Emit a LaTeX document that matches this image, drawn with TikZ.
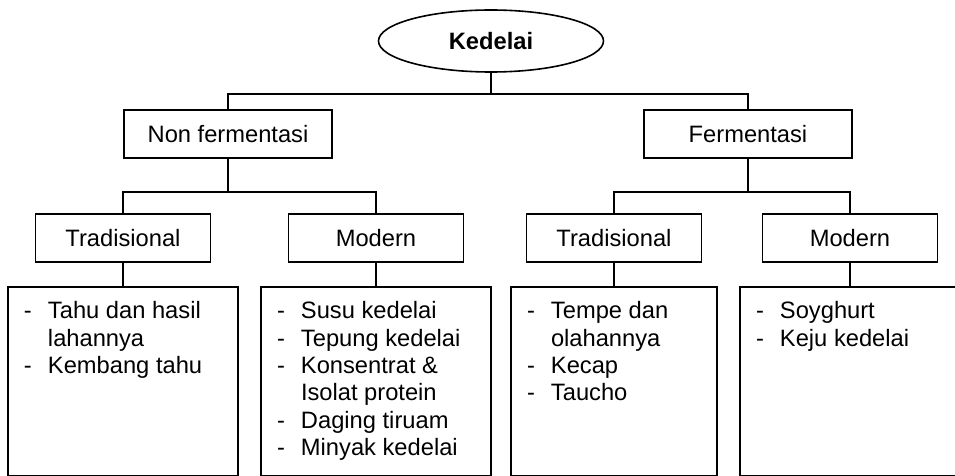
\documentclass[tikz,border=0pt]{standalone}
\usepackage{fontspec}
\setmainfont{Liberation Sans}
\usetikzlibrary{shapes.geometric}

\tikzset{
	txt/.style = {font = \fontsize{11.85pt}{13.7pt}\selectfont},
	head/.style = {draw, ellipse, line width = 0.8pt, minimum width = 112.5pt, minimum height = 31pt, inner sep = 0pt, font = \fontsize{11.85pt}{13.7pt}\selectfont\bfseries},
	group/.style = {draw, line width = 0.8pt, minimum width = 104pt, minimum height = 24pt, txt},
	kind/.style = {draw, line width = 0.8pt, minimum width = 87.5pt, minimum height = 24pt, txt},
	listbox/.style = {draw, line width = 0.8pt, anchor = north, minimum height = 94.25pt, inner sep = 0pt},
	listtext/.style = {anchor = north west, inner sep = 0pt, align = left, txt}
}

\begin{document}
\begin{tikzpicture}[x = 0.5pt, y = -0.5pt, line width = 0.8pt]
		\path [use as bounding box, clip] (0,0) rectangle (955,476);
		
		\node [head] (kedelai) at (491,41) {Kedelai};
		
		\node [group] (nonferm) at (228,134) {Non fermentasi};
		\node [group] (ferm) at (748,134) {Fermentasi};
		
		\node [kind] (tradL) at (123,238) {Tradisional};
		\node [kind] (modL) at (376,238) {Modern};
		\node [kind] (tradR) at (614,238) {Tradisional};
		\node [kind] (modR) at (850,238) {Modern};
		
		\node [listbox, minimum width = 115pt] (l1) at (123,286) {};
		\node [listbox, minimum width = 115pt] (l2) at (376,286) {};
		\node [listbox, minimum width = 103pt] (r1) at (614,286) {};
		\node [listbox, minimum width = 110pt] (r2) at (850,286) {};
		
		%lists
		\node [listtext] (l1txt) at ([xshift = 8pt, yshift = -6.4pt] l1.north west) {\begin{tabular}{@{}p{12pt}@{}l@{}}
			- & Tahu dan hasil\\ & lahannya\\ - & Kembang tahu
		\end{tabular}};
		\node [listtext] (l2txt) at ([xshift = 8pt, yshift = -6.4pt] l2.north west) {\begin{tabular}{@{}p{12pt}@{}l@{}}
			- & Susu kedelai\\ - & Tepung kedelai\\ - & Konsentrat \&\\ & Isolat protein\\ - & Daging tiruam\\ - & Minyak kedelai
		\end{tabular}};
		\node [listtext] (r1txt) at ([xshift = 8pt, yshift = -6.4pt] r1.north west) {\begin{tabular}{@{}p{12pt}@{}l@{}}
			- & Tempe dan\\ & olahannya\\ - & Kecap\\ - & Taucho
		\end{tabular}};
		\node [listtext] (r2txt) at ([xshift = 8pt, yshift = -6.4pt] r2.north west) {\begin{tabular}{@{}p{12pt}@{}l@{}}
			- & Soyghurt\\ - & Keju kedelai
		\end{tabular}};
		
		%connectors
		\draw (kedelai.south) -- ++(0,21) coordinate (j0);
		\draw (nonferm.north) |- (j0) -| (ferm.north);
		
		\draw (nonferm.south) -- ++(0,33) coordinate (j1);
		\draw (tradL.north) |- (j1) -| (modL.north);
		\draw (ferm.south) -- ++(0,33) coordinate (j2);
		\draw (tradR.north) |- (j2) -| (modR.north);
		
		\draw (tradL.south) -- (l1.north);
		\draw (modL.south) -- (l2.north);
		\draw (tradR.south) -- (r1.north);
		\draw (modR.south) -- (r2.north);
	\end{tikzpicture}
\end{document}
